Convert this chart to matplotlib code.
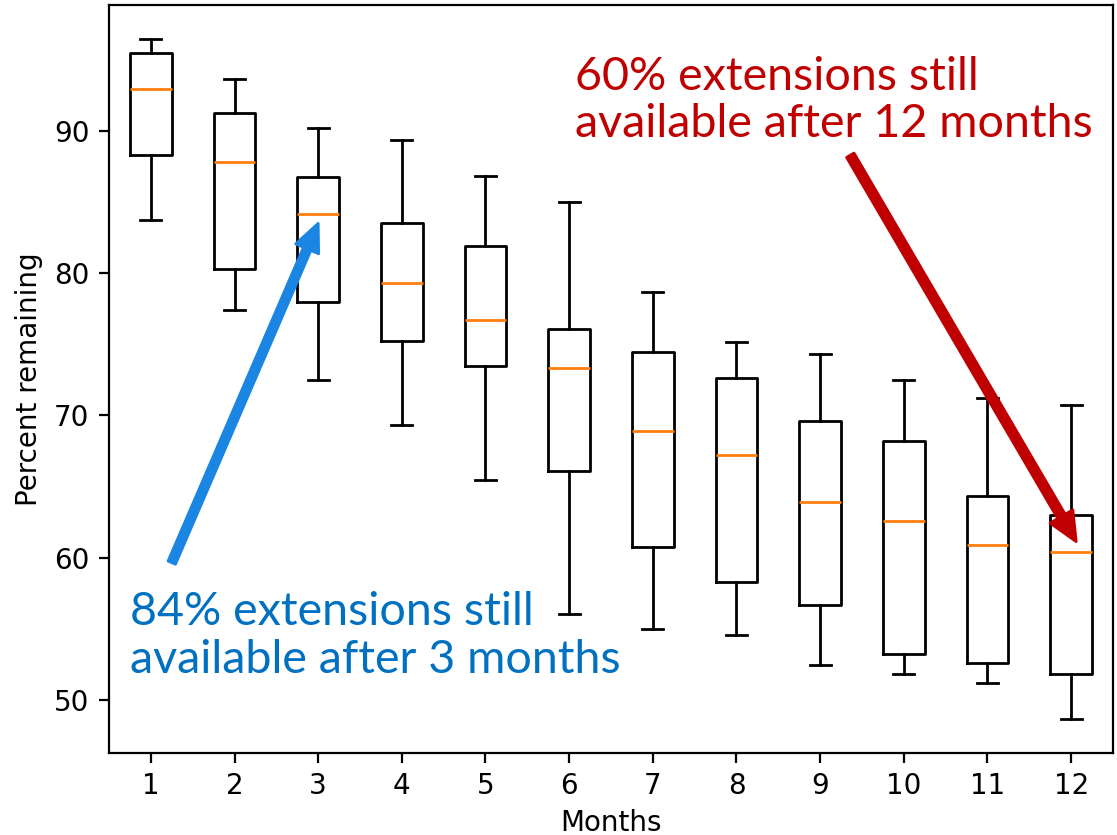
import matplotlib.pyplot as plt

# box statistics (percent remaining per month)
months = [1, 2, 3, 4, 5, 6, 7, 8, 9, 10, 11, 12]
whisker_hi = [96.43, 93.62, 90.23, 89.35, 86.80, 85.00, 78.65, 75.14, 74.34, 72.51, 71.22, 70.73]
q3 = [95.49, 91.23, 86.75, 83.52, 81.93, 76.07, 74.43, 72.63, 69.61, 68.20, 64.36, 62.98]
medians = [92.98, 87.83, 84.13, 79.28, 76.70, 73.35, 68.90, 67.20, 63.94, 62.56, 60.87, 60.40]
q1 = [88.28, 80.31, 77.99, 75.23, 73.47, 66.07, 60.73, 58.27, 56.66, 53.25, 52.62, 51.85]
whisker_lo = [83.71, 77.41, 72.47, 69.30, 65.46, 56.02, 54.97, 54.55, 52.48, 51.85, 51.17, 48.64]

blue_note = "84% extensions still\navailable after 3 months"
red_note = "60% extensions still\navailable after 12 months"


def build_stats():
    stats = []
    for i, m in enumerate(months):
        stats.append(dict(label=str(m), med=medians[i], q1=q1[i], q3=q3[i],
                          whislo=whisker_lo[i], whishi=whisker_hi[i], fliers=[]))
    return stats


def main():
    fig, ax = plt.subplots(figsize=(1117 / 200, 835 / 200), dpi=200)
    fig.subplots_adjust(left=109 / 1117, right=1113 / 1117, top=1 - 5 / 835, bottom=1 - 753 / 835)

    ax.bxp(build_stats(), showfliers=False)
    ax.set_ylim(46.27, 98.85)
    ax.set_yticks([50, 60, 70, 80, 90])
    ax.set_xlabel("Months", labelpad=3)
    ax.set_ylabel("Percent remaining")

    # callouts
    ax.annotate("", xy=(3.0, 83.5), xytext=(1.25, 59.65),
                arrowprops=dict(width=2.9, headwidth=9, headlength=10,
                                color="#1a85e3", shrink=0))
    ax.annotate("", xy=(12.06, 61.13), xytext=(9.36, 88.29),
                arrowprops=dict(width=3.1, headwidth=9.5, headlength=10.5,
                                color="#c00000", shrink=0))

    # va="baseline" anchors the last line of a multi-line text
    ax.text(0.75, 51.9, blue_note, color="#0070c0", fontsize=16.8,
            family="Lato", va="baseline", ha="left", linespacing=1.16)
    ax.text(6.064, 89.56, red_note, color="#c00000", fontsize=16.8,
            family="Lato", va="baseline", ha="left", linespacing=1.16)

    fig.savefig("out.png", dpi=200)


if __name__ == "__main__":
    main()
